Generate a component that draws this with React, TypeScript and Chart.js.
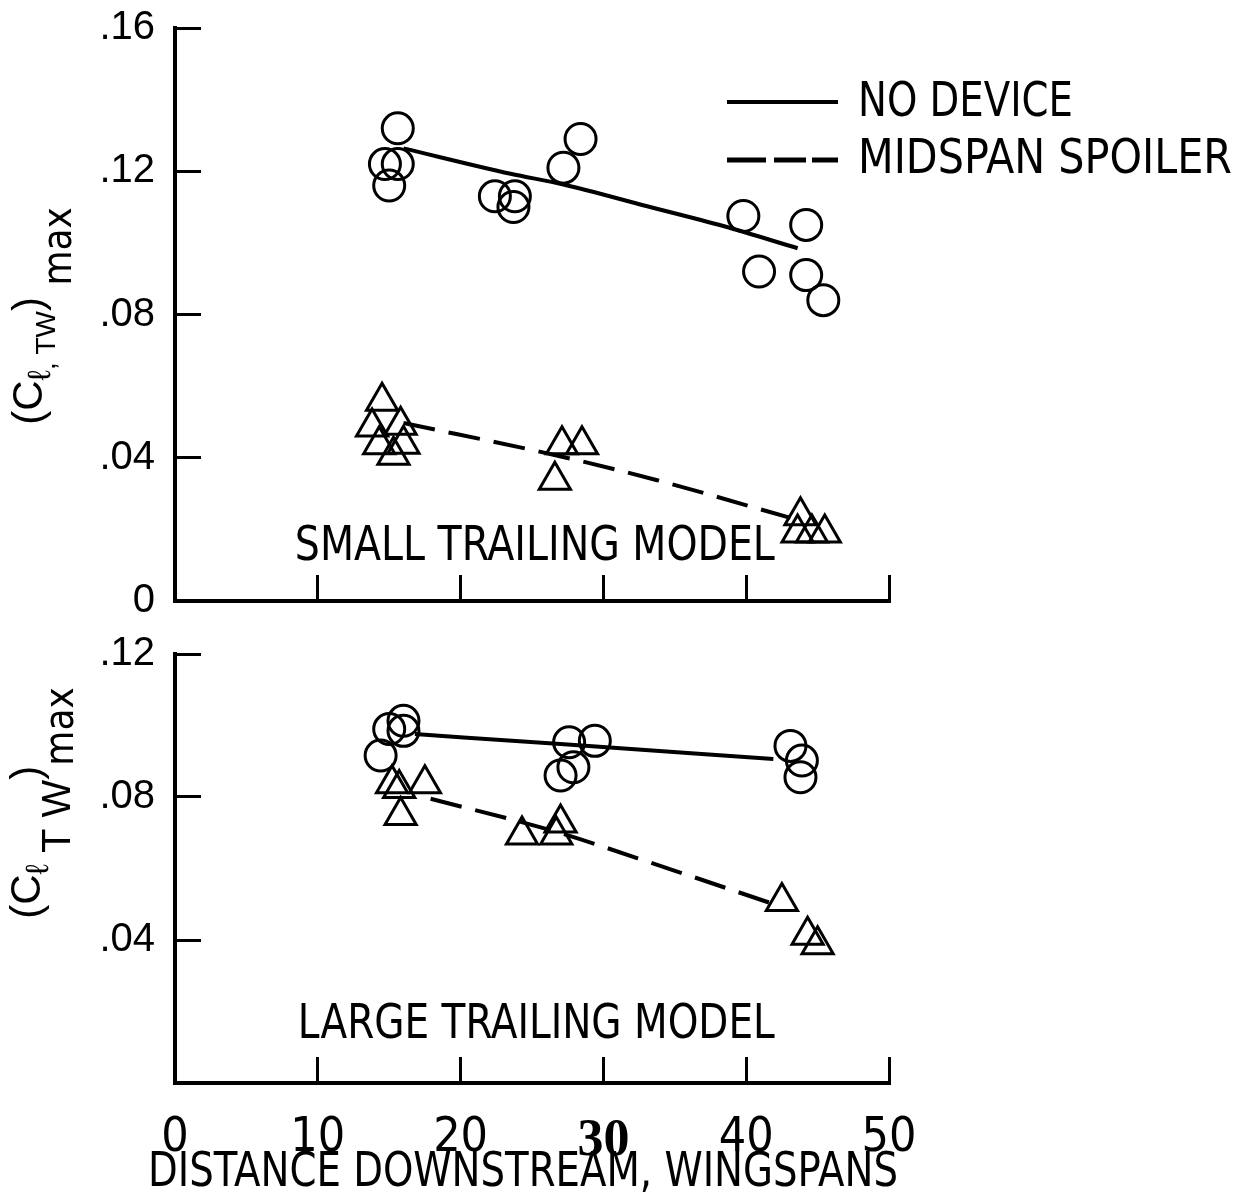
import React, { useEffect, useRef } from 'react';
import { Chart, registerables } from 'chart.js';

Chart.register(...registerables);

// ---------- data ----------
const xTickValues = [0, 10, 20, 30, 40, 50];

// Small trailing model (top panel)
const topCircleX = [15.6, 14.7, 15.6, 15.0, 22.4, 23.8, 23.7, 27.2, 28.4, 39.8, 44.2, 40.9, 44.2, 45.4];
const topCircleY = [0.132, 0.122, 0.122, 0.116, 0.113, 0.113, 0.110, 0.121, 0.129, 0.1075, 0.105, 0.092, 0.091, 0.084];
const topTriangleX = [14.5, 13.8, 15.8, 14.3, 16.0, 15.3, 27.1, 28.5, 26.6, 43.8, 44.6, 45.5, 43.6];
const topTriangleY = [0.0558, 0.0486, 0.0491, 0.0436, 0.0438, 0.0407, 0.0436, 0.0436, 0.0337, 0.0238, 0.019, 0.019, 0.019];
const topSolidX = [16.0, 23.5, 27.2, 33.0, 38.4, 43.6];
const topSolidY = [0.1264, 0.1193, 0.1163, 0.1103, 0.1047, 0.0985];
const topDashX = [16.0, 27.1, 33.7, 43.1];
const topDashY = [0.0497, 0.0403, 0.0338, 0.0232];

// Large trailing model (bottom panel)
const botCircleX = [15.0, 16.0, 16.0, 14.4, 27.6, 29.4, 27.9, 27.0, 43.1, 43.9, 43.8];
const botCircleY = [0.099, 0.1013, 0.0985, 0.0916, 0.0953, 0.0957, 0.0883, 0.086, 0.0943, 0.0902, 0.0855];
const botTriangleX = [15.2, 15.7, 17.5, 15.8, 24.3, 26.7, 27.0, 42.5, 44.3, 45.0];
const botTriangleY = [0.0837, 0.0824, 0.0837, 0.0748, 0.0694, 0.0694, 0.0727, 0.0508, 0.0413, 0.0387];
const botSolidX = [16.8, 27.0, 41.9];
const botSolidY = [0.0976, 0.0948, 0.0906];
const botDashX = [17.9, 26.4, 34.6, 41.8];
const botDashY = [0.0795, 0.0706, 0.0599, 0.0502];

const legendLabels = ['NO DEVICE', 'MIDSPAN SPOILER'];
const panelLabels = ['SMALL TRAILING MODEL', 'LARGE TRAILING MODEL'];
const xAxisTitle = 'DISTANCE DOWNSTREAM, WINGSPANS';

// ---------- styles ----------
const NARROW = "'Liberation Sans Narrow', 'DejaVu Sans Condensed', 'Arial Narrow', 'Liberation Sans', sans-serif";
const SANS = "'Liberation Sans', Arial, sans-serif";
const SERIF = "'Liberation Serif', 'DejaVu Serif', serif";
const INK = '#000';

const pts = (xs: number[], ys: number[]) => xs.map((x, i) => ({ x, y: ys[i] }));

type Seg = { t: string; size: number; dy?: number; fam?: string };

function drawRotated(ctx: CanvasRenderingContext2D, segs: Seg[], cx: number, cy: number) {
  ctx.save();
  ctx.translate(cx, cy);
  ctx.rotate(-Math.PI / 2);
  ctx.textAlign = 'left';
  ctx.textBaseline = 'alphabetic';
  ctx.fillStyle = INK;
  const widths = segs.map((s) => {
    ctx.font = `${s.size}px ${s.fam || SANS}`;
    return ctx.measureText(s.t).width;
  });
  const total = widths.reduce((a, b) => a + b, 0);
  let x = -total / 2;
  segs.forEach((s, i) => {
    ctx.font = `${s.size}px ${s.fam || SANS}`;
    ctx.fillText(s.t, x, s.dy || 0);
    x += widths[i];
  });
  ctx.restore();
}

function fitDataset(data: { x: number; y: number }[], dashed: boolean) {
  return {
    data,
    showLine: true,
    borderColor: INK,
    borderWidth: 4,
    borderDash: dashed ? [32, 14] : [],
    pointRadius: 0,
    cubicInterpolationMode: 'monotone' as const,
    fill: false,
  };
}

function markerDataset(data: { x: number; y: number }[], style: 'circle' | 'triangle') {
  return {
    data,
    showLine: false,
    pointStyle: style,
    pointRadius: style === 'circle' ? 15.5 : 18,
    pointBorderWidth: 3,
    borderWidth: 3,
    pointBorderColor: INK,
    borderColor: INK,
    pointBackgroundColor: 'rgba(0,0,0,0)',
    backgroundColor: 'rgba(0,0,0,0)',
  };
}

function makeOptions(opts: {
  yMax: number;
  padTop: number;
  xHeight: number;
  showXLabels: boolean;
  hideZeroY: boolean;
}) {
  return {
    responsive: false,
    animation: false as const,
    devicePixelRatio: 1,
    layout: { padding: { top: opts.padTop, right: 1254 - 889, left: 0, bottom: 0 } },
    plugins: { legend: { display: false }, tooltip: { enabled: false } },
    scales: {
      x: {
        type: 'linear' as const,
        position: 'bottom' as const,
        min: 0,
        max: 50,
        afterBuildTicks: (scale: any) => {
          scale.ticks = xTickValues.map((v) => ({ value: v }));
        },
        ticks: {
          display: opts.showXLabels,
          autoSkip: false,
          maxRotation: 0,
          padding: 53,
          color: INK,
          font: (c: any) =>
            c.tick && c.tick.value === 30
              ? { family: SERIF, size: 52, weight: 'bold' as const }
              : { family: NARROW, size: 48 },
        },
        grid: { drawOnChartArea: false, drawTicks: true, tickLength: -26, color: INK, lineWidth: 3 },
        border: { display: true, color: INK, width: 4 },
        afterFit: (s: any) => {
          s.height = opts.xHeight;
          s.paddingLeft = 0;
          s.paddingRight = 0;
        },
      },
      y: {
        type: 'linear' as const,
        min: 0,
        max: opts.yMax,
        ticks: {
          stepSize: 0.04,
          padding: 46,
          color: INK,
          font: { family: SANS, size: 40 },
          callback: (v: any) => {
            const n = Number(v);
            if (Math.abs(n) < 1e-9) return opts.hideZeroY ? '' : '0';
            return n.toFixed(2).replace(/^0/, '');
          },
        },
        grid: { drawOnChartArea: false, drawTicks: true, tickLength: -26, color: INK, lineWidth: 3 },
        border: { display: true, color: INK, width: 4 },
        afterFit: (s: any) => {
          s.width = 175;
          s.paddingTop = 0;
          s.paddingBottom = 0;
        },
      },
    },
  };
}

function fitText(ctx: CanvasRenderingContext2D, text: string, x: number, y: number, size: number, maxW: number, align: CanvasTextAlign) {
  ctx.save();
  ctx.fillStyle = INK;
  ctx.font = `${size}px ${NARROW}`;
  ctx.textAlign = align;
  ctx.textBaseline = 'middle';
  ctx.fillText(text, x, y, maxW);
  ctx.restore();
}

function panelLabelPlugin(text: string, xv: number, yv: number, maxW: number) {
  return {
    id: 'panelLabel',
    afterDatasetsDraw(chart: any) {
      const px = chart.scales.x.getPixelForValue(xv);
      const py = chart.scales.y.getPixelForValue(yv);
      fitText(chart.ctx, text, px, py, 48, maxW, 'center');
    },
  };
}

function yTitlePlugin(segs: Seg[], cx: number, cy: number) {
  return {
    id: 'yTitle',
    afterDraw(chart: any) {
      drawRotated(chart.ctx, segs, cx, cy);
    },
  };
}

const xTitlePlugin = {
  id: 'xTitle',
  afterDraw(chart: any) {
    const xs = chart.scales.x;
    const cx = (xs.getPixelForValue(0) + xs.getPixelForValue(50)) / 2 - 9;
    fitText(chart.ctx, xAxisTitle, cx, xs.bottom - 26, 48, 750, 'center');
  },
};

const legendPlugin = {
  id: 'legendBox',
  afterDraw(chart: any) {
    const ctx = chart.ctx as CanvasRenderingContext2D;
    ctx.save();
    ctx.strokeStyle = INK;
    ctx.lineWidth = 4;
    ctx.lineCap = 'butt';
    ctx.beginPath();
    ctx.moveTo(727, 102);
    ctx.lineTo(838, 102);
    ctx.stroke();
    const dashes = [
      [727, 766],
      [774, 806],
      [812, 838],
    ];
    ctx.lineWidth = 5;
    dashes.forEach(([a, b]) => {
      ctx.beginPath();
      ctx.moveTo(a, 160);
      ctx.lineTo(b, 160);
      ctx.stroke();
    });
    ctx.restore();
    fitText(ctx, legendLabels[0], 858, 104, 48, 215, 'left');
    fitText(ctx, legendLabels[1], 858, 161, 48, 374, 'left');
  },
};

export default function App() {
  const topRef = useRef<HTMLCanvasElement>(null);
  const botRef = useRef<HTMLCanvasElement>(null);

  useEffect(() => {
    const topChart = new Chart(topRef.current as HTMLCanvasElement, {
      type: 'scatter',
      data: {
        datasets: [
          fitDataset(pts(topSolidX, topSolidY), false),
          fitDataset(pts(topDashX, topDashY), true),
          markerDataset(pts(topCircleX, topCircleY), 'circle'),
          markerDataset(pts(topTriangleX, topTriangleY), 'triangle'),
        ] as any,
      },
      options: makeOptions({ yMax: 0.16, padTop: 28, xHeight: 29, showXLabels: false, hideZeroY: false }) as any,
      plugins: [
        panelLabelPlugin(panelLabels[0], 25.2, 0.0148, 480),
        legendPlugin,
        yTitlePlugin(
          [
            { t: '(', size: 42 },
            { t: 'C', size: 42 },
            { t: 'ℓ', size: 32, dy: 8 },
            { t: ', TW', size: 28, dy: 13 },
            { t: ')', size: 42 },
            { t: ' max', size: 40, dy: 29, fam: NARROW },
          ],
          42,
          316
        ),
      ],
    });

    const botChart = new Chart(botRef.current as HTMLCanvasElement, {
      type: 'scatter',
      data: {
        datasets: [
          fitDataset(pts(botSolidX, botSolidY), false),
          fitDataset(pts(botDashX, botDashY), true),
          markerDataset(pts(botCircleX, botCircleY), 'circle'),
          markerDataset(pts(botTriangleX, botTriangleY), 'triangle'),
        ] as any,
      },
      options: makeOptions({ yMax: 0.12, padTop: 24, xHeight: 117, showXLabels: true, hideZeroY: true }) as any,
      plugins: [
        panelLabelPlugin(panelLabels[1], 25.3, 0.0162, 477),
        xTitlePlugin,
        yTitlePlugin(
          [
            { t: '(', size: 42 },
            { t: 'C', size: 42 },
            { t: 'ℓ', size: 32, dy: 8 },
            { t: ' T W', size: 40, dy: 30 },
            { t: ')', size: 42 },
            { t: 'max', size: 40, dy: 33, fam: NARROW },
          ],
          40,
          173
        ),
      ],
    });

    return () => {
      topChart.destroy();
      botChart.destroy();
    };
  }, []);

  return (
    <div style={{ position: 'absolute', left: 0, top: 0, width: 1254, height: 1200, background: '#fff' }}>
      <canvas
        ref={topRef}
        width={1254}
        height={630}
        style={{ position: 'absolute', left: 0, top: 0, width: 1254, height: 630 }}
      />
      <canvas
        ref={botRef}
        width={1254}
        height={570}
        style={{ position: 'absolute', left: 0, top: 630, width: 1254, height: 570 }}
      />
    </div>
  );
}
